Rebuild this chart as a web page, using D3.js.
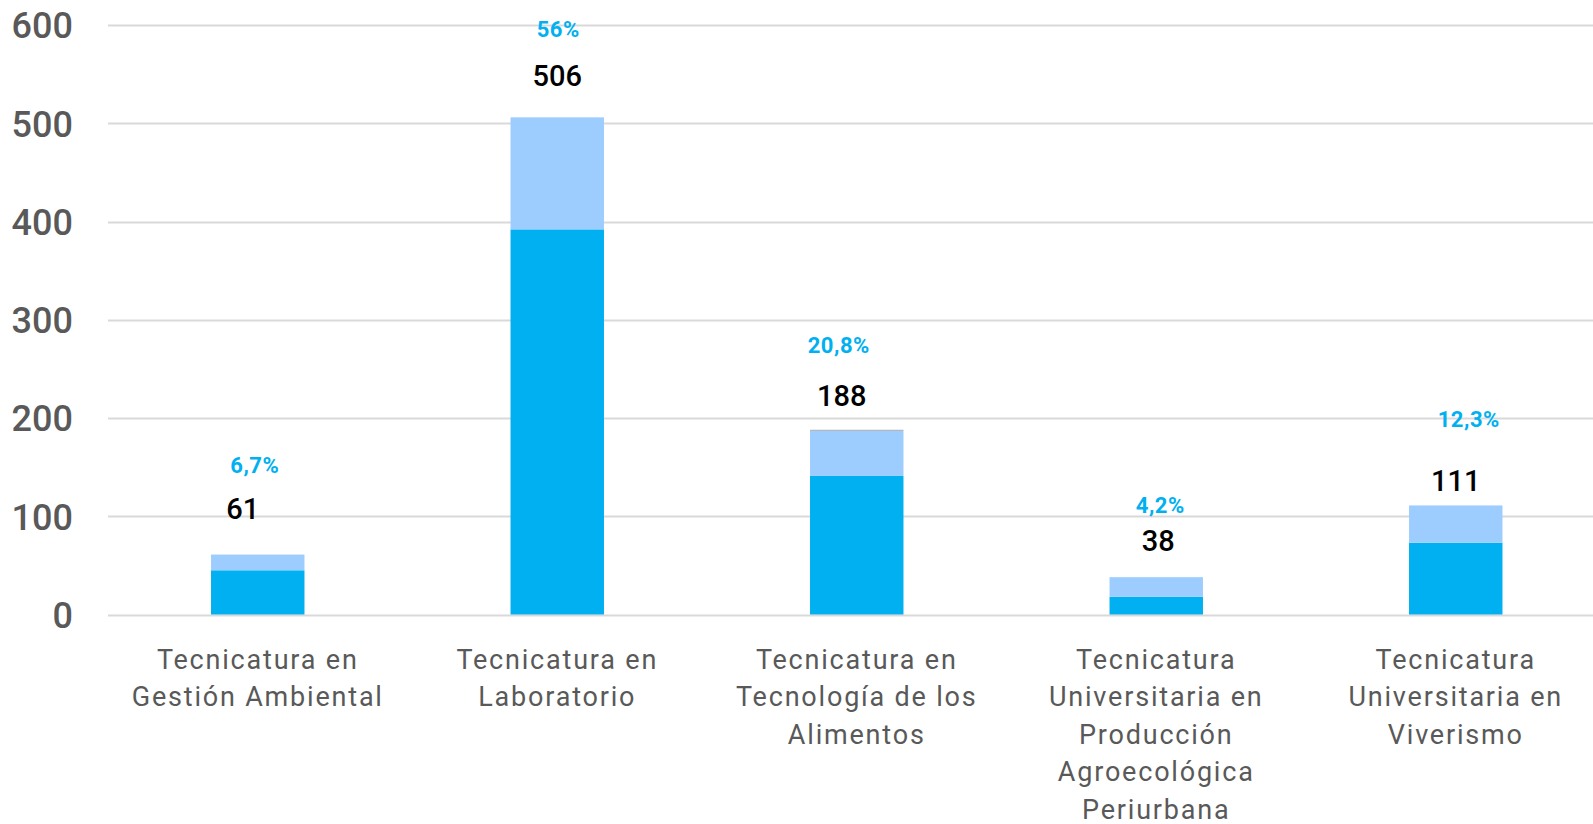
<!DOCTYPE html>
<html>
<head>
<meta charset="utf-8">
<script src="https://cdn.jsdelivr.net/npm/d3@7"></script>
<style>
  body { margin: 0; background: #fff; }
  svg { display: block; font-family: Roboto, "Noto Sans", sans-serif; }
</style>
</head>
<body>
<svg id="chart" width="1593" height="824"></svg>
<script>
/*
    Chart data
 */
var categories = [
    ["Tecnicatura en", "Gestión Ambiental"],
    ["Tecnicatura en", "Laboratorio"],
    ["Tecnicatura en", "Tecnología de los", "Alimentos"],
    ["Tecnicatura", "Universitaria en", "Producción", "Agroecológica", "Periurbana"],
    ["Tecnicatura", "Universitaria en", "Viverismo"]
];
var darkValues = [45, 392, 141, 18, 73];
var lightValues = [16, 114, 46, 20, 38];
var grayValues = [0, 0, 1, 0, 0];
var totals = [61, 506, 188, 38, 111];
var percentLabels = ["6,7%", "56%", "20,8%", "4,2%", "12,3%"];
var yTicks = [0, 100, 200, 300, 400, 500, 600];

/*
    Layout (labels were hand placed in the original)
 */
var width = 1593;
var height = 824;
var left = 108, step = 299.5;
var valueLift = [46, 42, 34, 37, 25];   // label centre above bar top
var pctLift = [43, 46, 51, 35, 61];     // percent label above value label
var valueShift = [-15, 0, -15, 2, 0];   // horizontal nudges
var pctShift = [-3, 1, -18, 4, 13];

var svg = d3.select("#chart");

var x = d3.scaleBand()
    .domain(d3.range(categories.length))
    .range([left, left + step * categories.length])
    .paddingInner(0.688)
    .paddingOuter(0.344);

var y = d3.scaleLinear()
    .domain([0, 600])
    .range([614.5, 25]);

var cx = function(i){ return x(i) + x.bandwidth() / 2; };

// gridlines
svg.append("g")
    .selectAll("line")
    .data(yTicks)
    .enter().append("line")
    .attr("x1", left)
    .attr("x2", width)
    .attr("y1", function(d){ return Math.round(y(d)) + 0.5; })
    .attr("y2", function(d){ return Math.round(y(d)) + 0.5; })
    .attr("stroke", "#d9d9d9")
    .attr("stroke-width", 2);

// y axis labels
var yAxis = d3.axisLeft(y).tickValues(yTicks).tickSize(0).tickPadding(0);
var yG = svg.append("g")
    .attr("transform", "translate(73,0)")
    .call(yAxis);
yG.select(".domain").remove();
yG.selectAll("text")
    .attr("fill", "#595959")
    .style("font-size", "36px")
    .style("font-weight", "500")
    .style("font-family", "Roboto, sans-serif")
    .attr("dy", "0.36em");

// stacked bars
var stackData = categories.map(function(c, i){
    return { dark: darkValues[i], light: lightValues[i], gray: grayValues[i] };
});
var series = d3.stack().keys(["dark", "light", "gray"])(stackData);
var colors = { dark: "#00b0f0", light: "#9dcdff", gray: "#a5a5a5" };

svg.append("g")
    .selectAll("g")
    .data(series)
    .enter().append("g")
    .attr("fill", function(s){ return colors[s.key]; })
    .selectAll("rect")
    .data(function(s){ return s; })
    .enter().append("rect")
    .attr("x", function(d, i){ return x(i); })
    .attr("width", x.bandwidth())
    .attr("y", function(d){ return y(d[1]); })
    .attr("height", function(d){ return y(d[0]) - y(d[1]); });

// value labels
svg.append("g")
    .selectAll("text")
    .data(totals)
    .enter().append("text")
    .attr("x", function(d, i){ return cx(i) + valueShift[i]; })
    .attr("y", function(d, i){ return y(d) - valueLift[i]; })
    .attr("dy", "0.36em")
    .attr("text-anchor", "middle")
    .style("font-size", "29px")
    .style("font-weight", "500")
    .attr("fill", "#000")
    .text(function(d){ return d; });

// percent labels
svg.append("g")
    .selectAll("text")
    .data(percentLabels)
    .enter().append("text")
    .attr("x", function(d, i){ return cx(i) + pctShift[i]; })
    .attr("y", function(d, i){ return y(totals[i]) - valueLift[i] - pctLift[i]; })
    .attr("dy", "0.36em")
    .attr("text-anchor", "middle")
    .style("font-size", "22px")
    .style("font-weight", "700")
    .style("letter-spacing", "0.5px")
    .attr("fill", "#00b0f0")
    .text(function(d){ return d; });

// category labels
var catG = svg.append("g")
    .selectAll("text")
    .data(categories)
    .enter().append("text")
    .attr("text-anchor", "middle")
    .attr("fill", "#595959")
    .style("font-size", "27px")
    .style("font-weight", "400")
    .style("letter-spacing", "1.8px");

catG.selectAll("tspan")
    .data(function(d, i){ return d.map(function(line){ return { line: line, i: i }; }); })
    .enter().append("tspan")
    .attr("x", function(d){ return cx(d.i); })
    .attr("y", function(d, j){ return 659 + j * 37.5; })
    .attr("dy", "0.36em")
    .text(function(d){ return d.line; });
</script>
</body>
</html>
